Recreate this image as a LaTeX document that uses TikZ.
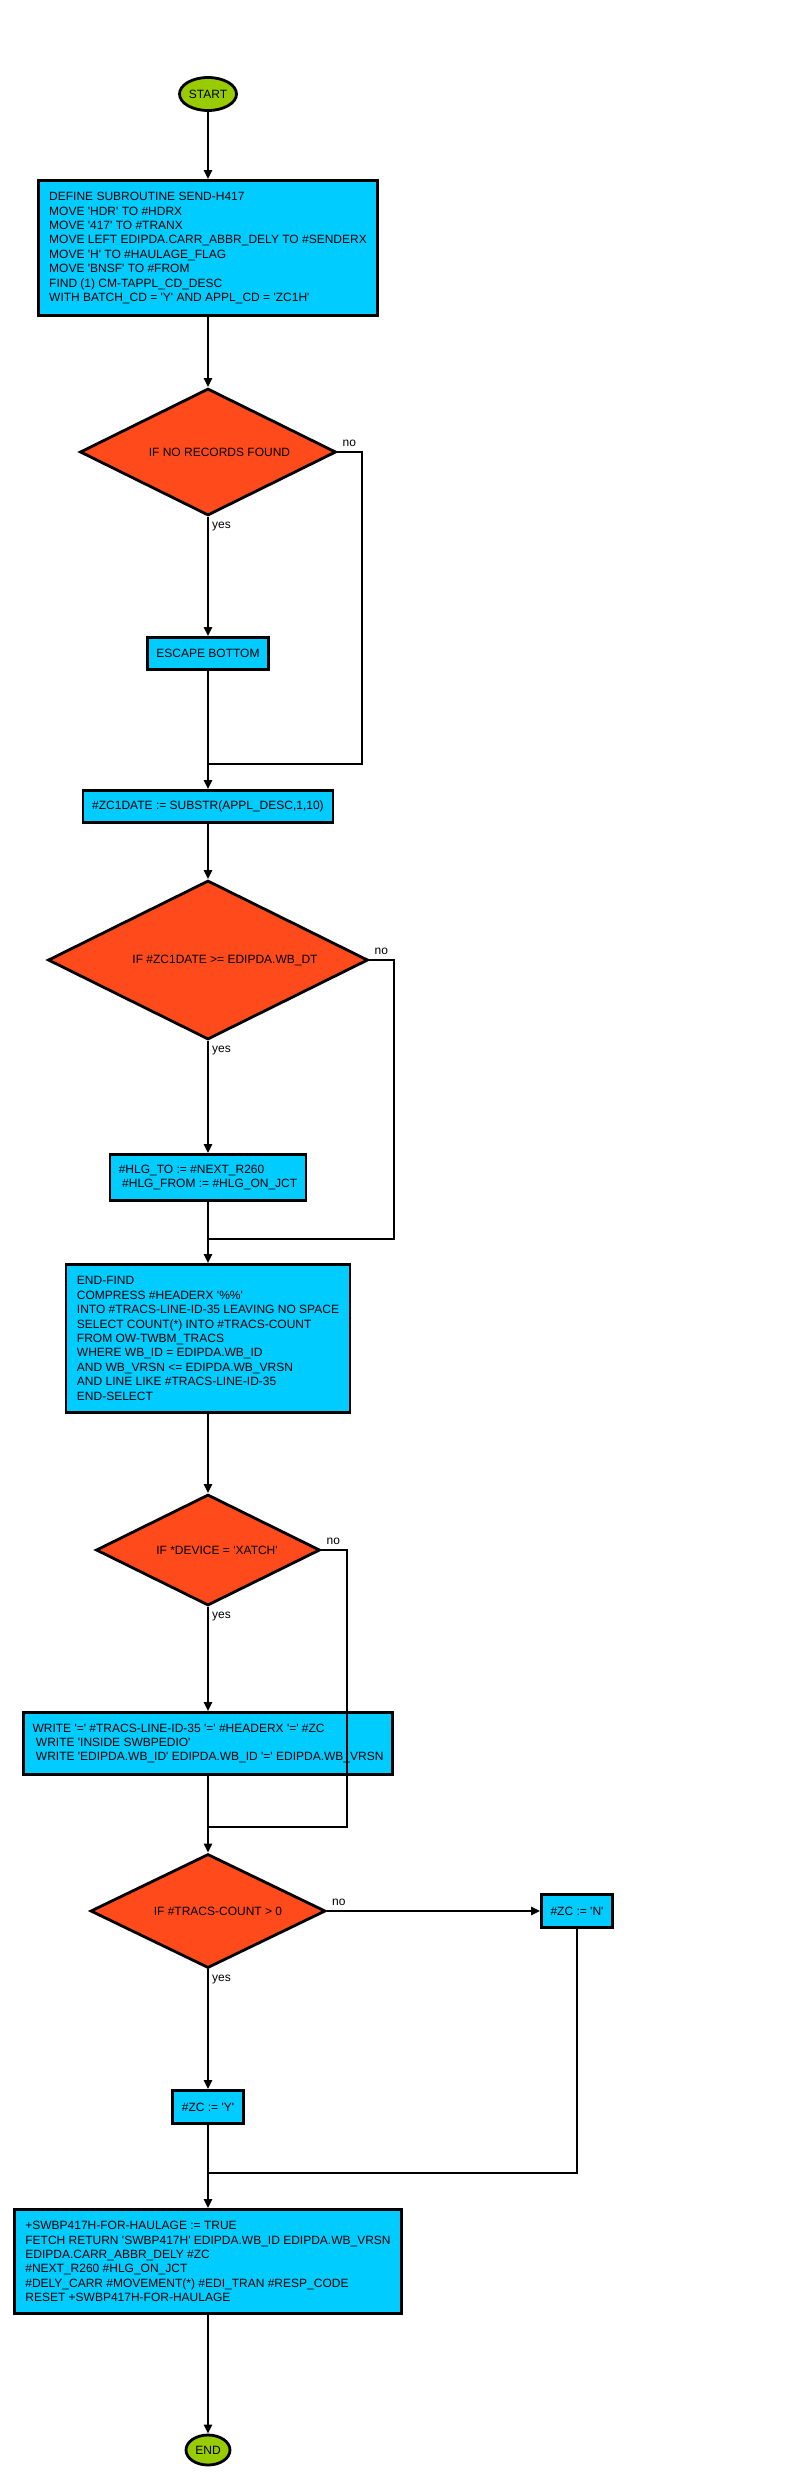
\documentclass[tikz,border=0pt]{standalone}
\usepackage{fontspec}
\newfontfamily\chartfont{Liberation Sans}
\usetikzlibrary{shapes.geometric,arrows.meta}

\definecolor{termgreen}{HTML}{99CC00}
\definecolor{procblue}{HTML}{00CCFF}
\definecolor{decorange}{HTML}{FF4B1B}

\begin{document}
\begin{tikzpicture}[x=1pt, y=-1pt, font={\chartfont\fontsize{12}{14.4}\selectfont},
  term/.style={ellipse, draw, fill=termgreen, line width=2.8pt, inner sep=0pt},
  proc/.style={rectangle, draw, fill=procblue, line width=2.8pt, inner xsep=8.5pt, inner ysep=0pt, align=left},
  dec/.style={diamond, draw, fill=decorange, line width=2.8pt, inner sep=0pt},
  flow/.style={line width=2.4pt, -{Triangle[length=9pt,width=8pt]}},
  wire/.style={line width=2.4pt},
  yn/.style={inner sep=0pt}]

  \useasboundingbox (0,0) rectangle (800,2479);

  % ---------- start / stop ----------
  \node[term, minimum width=57, minimum height=33] (start) at (208,94) {START};
  \node[term, minimum width=44, minimum height=30] (stop) at (208,2450) {END};

  % ---------- process boxes ----------
  \node[proc, minimum width=339, minimum height=135] (init) at (208,248)
    {DEFINE SUBROUTINE SEND-H417\\
     MOVE 'HDR' TO \#HDRX\\
     MOVE '417' TO \#TRANX\\
     MOVE LEFT EDIPDA.CARR\_ABBR\_DELY TO \#SENDERX\\
     MOVE 'H' TO \#HAULAGE\_FLAG\\
     MOVE 'BNSF' TO \#FROM\\
     FIND (1) CM-TAPPL\_CD\_DESC\\
     WITH BATCH\_CD = 'Y' AND APPL\_CD = 'ZC1H'};
  \node[proc, align=center, minimum width=121, minimum height=32] (esc) at (208,653.5) {ESCAPE BOTTOM};
  \node[proc, align=center, minimum width=250, minimum height=32] (zc1) at (208,806.5) {\#ZC1DATE := SUBSTR(APPL\_DESC,1,10)};
  \node[proc, minimum width=196, minimum height=46] (hlg) at (208,1177.5)
    {\#HLG\_TO := \#NEXT\_R260\\
     \hspace*{3.4pt}\#HLG\_FROM := \#HLG\_ON\_JCT};
  \node[proc, minimum width=284, minimum height=148] (sel) at (208,1338.5)
    {END-FIND\\
     COMPRESS \#HEADERX '\%\%'\\
     INTO \#TRACS-LINE-ID-35 LEAVING NO SPACE\\
     SELECT COUNT(*) INTO \#TRACS-COUNT\\
     FROM OW-TWBM\_TRACS\\
     WHERE WB\_ID = EDIPDA.WB\_ID\\
     AND WB\_VRSN <= EDIPDA.WB\_VRSN\\
     AND LINE LIKE \#TRACS-LINE-ID-35\\
     END-SELECT};
  \node[proc, minimum width=369, minimum height=62] (write) at (208,1743.5)
    {WRITE '=' \#TRACS-LINE-ID-35 '=' \#HEADERX '=' \#ZC\\
     \hspace*{3.4pt}WRITE 'INSIDE SWBPEDIO'\\
     \hspace*{3.4pt}WRITE 'EDIPDA.WB\_ID' EDIPDA.WB\_ID '=' EDIPDA.WB\_VRSN};
  \node[proc, align=center, minimum width=71, minimum height=33] (zcn) at (577,1911) {\#ZC := 'N'};
  \node[proc, align=center, minimum width=71, minimum height=33] (zcy) at (208,2107) {\#ZC := 'Y'};
  \node[proc, minimum width=387, minimum height=104] (last) at (208,2261.5)
    {+SWBP417H-FOR-HAULAGE := TRUE\\
     FETCH RETURN 'SWBP417H' EDIPDA.WB\_ID EDIPDA.WB\_VRSN\\
     EDIPDA.CARR\_ABBR\_DELY \#ZC\\
     \#NEXT\_R260 \#HLG\_ON\_JCT\\
     \#DELY\_CARR \#MOVEMENT(*) \#EDI\_TRAN \#RESP\_CODE\\
     RESET +SWBP417H-FOR-HAULAGE};

  % ---------- decisions ----------
  \node[dec, minimum width=256, minimum height=127] (d1) at (208,452) {};
  \node (d1t) at (219.5,452) {IF NO RECORDS FOUND};
  \node[dec, minimum width=320, minimum height=159] (d2) at (208,960) {};
  \node (d2t) at (225,960) {IF \#ZC1DATE >= EDIPDA.WB\_DT};
  \node[dec, minimum width=224, minimum height=111] (d3) at (208,1550) {};
  \node (d3t) at (217,1550) {IF *DEVICE = 'XATCH'};
  \node[dec, minimum width=235, minimum height=114] (d4) at (208,1911) {};
  \node (d4t) at (218,1911) {IF \#TRACS-COUNT > 0};

  % ---------- joins ----------
  \coordinate (j1) at (208,764);
  \coordinate (j2) at (208,1239);
  \coordinate (j3) at (208,1827);
  \coordinate (j4) at (208,2173);
  \coordinate (c1) at (362,764);
  \coordinate (c2) at (394,1239);
  \coordinate (c3) at (347,1827);
  \coordinate (c4) at (577,2173);

  % ---------- main line ----------
  \foreach \a/\b in {start/init, init/d1, d1/esc, j1/zc1, zc1/d2, d2/hlg, j2/sel,
                     sel/d3, d3/write, j3/d4, d4/zcy, j4/last, last/stop}
    \draw[flow] (\a) -- (\b);
  \foreach \a/\b in {esc/j1, hlg/j2, write/j3, zcy/j4}
    \draw[wire] (\a) -- (\b);

  % ---------- no branches ----------
  \draw[wire] (d1.east) -| (c1) -- (j1);
  \draw[wire] (d2.east) -| (c2) -- (j2);
  \draw[wire] (d3.east) -| (c3) -- (j3);
  \draw[flow] (d4.east) -- (zcn);
  \draw[wire] (zcn) -- (c4) -- (j4);

  % ---------- yes / no labels ----------
  \foreach \d in {d1,d2,d3,d4}{
    \node[yn, anchor=south west] (\d-no) at ([shift={(5,-5)}]\d.east) {no};
    \node[yn, anchor=north west] (\d-yes) at ([shift={(4,5)}]\d.south) {yes};
  }

\end{tikzpicture}
\end{document}
